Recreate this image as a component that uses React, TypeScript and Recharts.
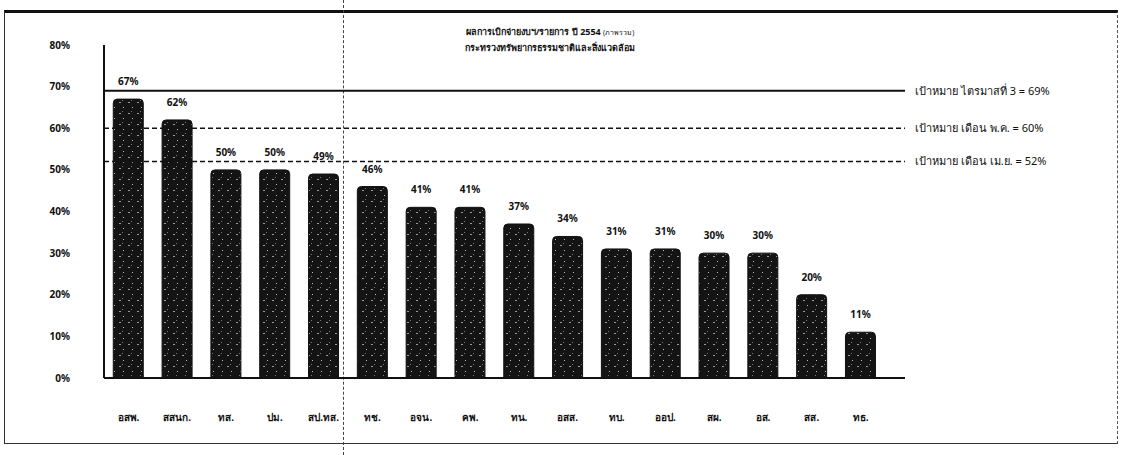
import React from "react";
import {
  ComposedChart,
  Bar,
  XAxis,
  YAxis,
  ReferenceLine,
  LabelList,
} from "recharts";

const units = [
  "อสพ.", "สสนก.", "ทส.", "ปม.", "สป.ทส.", "ทช.", "อจน.", "คพ.",
  "ทน.", "อสส.", "ทบ.", "ออป.", "สผ.", "อส.", "สส.", "ทธ.",
];
const spent = [67, 62, 50, 50, 49, 46, 41, 41, 37, 34, 31, 31, 30, 30, 20, 11];
const yTicks = [0, 10, 20, 30, 40, 50, 60, 70, 80];
const targetValues = [69, 60, 52];
const targetLabels = [
  "เป้าหมาย ไตรมาสที่ 3 = 69%",
  "เป้าหมาย เดือน พ.ค. = 60%",
  "เป้าหมาย เดือน เม.ย. = 52%",
];

const data = units.map((name, i) => ({ name, value: spent[i] }));

const font = "'Noto Sans', 'DejaVu Sans', sans-serif";

export default function App() {
  return (
    <div
      style={{
        position: "absolute",
        left: 0,
        top: 0,
        width: 1127,
        height: 455,
        background: "#fff",
        fontFamily: font,
        overflow: "hidden",
      }}
    >
      {/* scanned page frame */}
      <div
        style={{
          position: "absolute",
          left: 4,
          top: 10,
          width: 1112,
          height: 430,
          borderTop: "3px solid #111",
          borderLeft: "1px solid #333",
          borderBottom: "1px solid #333",
          borderRight: "1px dashed #555",
        }}
      />
      <div
        style={{
          position: "absolute",
          left: 343,
          top: 0,
          width: 0,
          height: 455,
          borderLeft: "1px dashed #444",
        }}
      />
      <div
        style={{
          position: "absolute",
          left: 420,
          top: 24,
          width: 260,
          textAlign: "center",
          fontSize: 9,
          fontWeight: 700,
          lineHeight: "15px",
          color: "#111",
        }}
      >
        <div>
          ผลการเบิกจ่ายงบฯ/รายการ ปี 2554{" "}
          <span style={{ fontSize: 7, fontWeight: 400 }}>(ภาพรวม)</span>
        </div>
        <div>กระทรวงทรัพยากรธรรมชาติและสิ่งแวดล้อม</div>
      </div>
      <ComposedChart
        width={1127}
        height={455}
        data={data}
        margin={{ top: 45, right: 222, bottom: 47, left: 0 }}
        barCategoryGap="19%"
        style={{ position: "absolute", left: 0, top: 0 }}
      >
        <defs>
          <pattern
            id="speckle"
            width="9"
            height="11"
            patternUnits="userSpaceOnUse"
          >
            <rect width="9" height="11" fill="#141414" />
            <rect x="2" y="3" width="2" height="1" fill="#9a9a9a" />
            <rect x="6" y="8" width="1" height="1" fill="#bdbdbd" />
            <rect x="5" y="1" width="1" height="1" fill="#777" />
          </pattern>
        </defs>
        <XAxis
          dataKey="name"
          height={30}
          axisLine={{ stroke: "#111", strokeWidth: 2 }}
          tickLine={false}
          tickMargin={30}
          padding={{ left: 0, right: 20 }}
          interval={0}
          tick={{ fontSize: 10, fontWeight: 700, fill: "#111", fontFamily: font }}
        />
        <YAxis
          domain={[0, 80]}
          ticks={yTicks}
          tickFormatter={(v: number) => `${v}%`}
          width={104}
          axisLine={{ stroke: "#111", strokeWidth: 2 }}
          tickLine={false}
          tickSize={0}
          tickMargin={34}
          tick={{ fontSize: 10, fontWeight: 700, fill: "#111", fontFamily: font }}
        />
        {targetValues.map((v, i) => (
          <ReferenceLine
            key={v}
            y={v}
            stroke="#111"
            strokeWidth={i === 0 ? 2 : 1.5}
            strokeDasharray={i === 0 ? undefined : "5 3"}
            label={{
              value: targetLabels[i],
              position: "right",
              offset: 10,
              fontSize: 11,
              fill: "#111",
              fontFamily: font,
            }}
          />
        ))}
        <Bar
          dataKey="value"
          fill="url(#speckle)"
          stroke="#111"
          radius={[4, 4, 0, 0]}
          isAnimationActive={false}
        >
          <LabelList
            dataKey="value"
            position="top"
            offset={14}
            formatter={(v: number) => `${v}%`}
            style={{ fontSize: 10, fontWeight: 700, fill: "#111", fontFamily: font }}
          />
        </Bar>
      </ComposedChart>
    </div>
  );
}
